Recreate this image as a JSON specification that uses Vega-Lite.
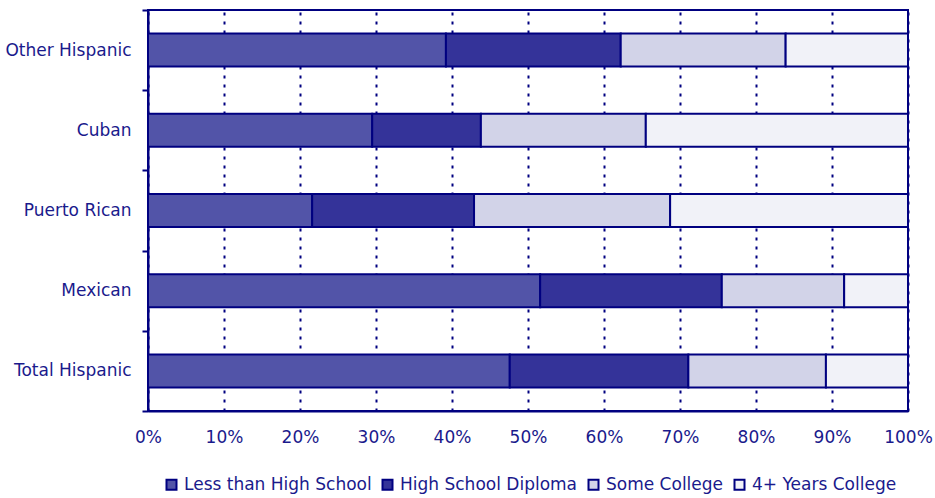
{
  "$schema": "https://vega.github.io/schema/vega-lite/v6.json",
  "autosize": "none",
  "padding": {"left": 148, "top": 10, "right": 27, "bottom": 87},
  "width": 760,
  "height": 401,
  "background": "white",
  "config": {
    "font": "DejaVu Sans",
    "view": {"stroke": "#000080", "strokeWidth": 2},
    "axis": {"labelColor": "#1a1a8c", "labelFontSize": 17, "labelFont": "DejaVu Sans", "domainColor": "#000080", "domainWidth": 2, "tickColor": "#000080", "tickWidth": 2},
    "legend": {"labelColor": "#1a1a8c", "labelFontSize": 17, "labelFont": "DejaVu Sans", "labelLimit": 0}
  },
  "data": {
    "values": [
      {"group": "Other Hispanic", "level": "Less than High School", "k": 1, "pct": 39.2},
      {"group": "Other Hispanic", "level": "High School Diploma", "k": 2, "pct": 23.0},
      {"group": "Other Hispanic", "level": "Some College", "k": 3, "pct": 21.7},
      {"group": "Other Hispanic", "level": "4+ Years College", "k": 4, "pct": 16.1},
      {"group": "Cuban", "level": "Less than High School", "k": 1, "pct": 29.5},
      {"group": "Cuban", "level": "High School Diploma", "k": 2, "pct": 14.3},
      {"group": "Cuban", "level": "Some College", "k": 3, "pct": 21.7},
      {"group": "Cuban", "level": "4+ Years College", "k": 4, "pct": 34.5},
      {"group": "Puerto Rican", "level": "Less than High School", "k": 1, "pct": 21.6},
      {"group": "Puerto Rican", "level": "High School Diploma", "k": 2, "pct": 21.3},
      {"group": "Puerto Rican", "level": "Some College", "k": 3, "pct": 25.8},
      {"group": "Puerto Rican", "level": "4+ Years College", "k": 4, "pct": 31.3},
      {"group": "Mexican", "level": "Less than High School", "k": 1, "pct": 51.6},
      {"group": "Mexican", "level": "High School Diploma", "k": 2, "pct": 23.9},
      {"group": "Mexican", "level": "Some College", "k": 3, "pct": 16.1},
      {"group": "Mexican", "level": "4+ Years College", "k": 4, "pct": 8.4},
      {"group": "Total Hispanic", "level": "Less than High School", "k": 1, "pct": 47.6},
      {"group": "Total Hispanic", "level": "High School Diploma", "k": 2, "pct": 23.5},
      {"group": "Total Hispanic", "level": "Some College", "k": 3, "pct": 18.1},
      {"group": "Total Hispanic", "level": "4+ Years College", "k": 4, "pct": 10.8}
    ]
  },
  "mark": {"type": "bar", "stroke": "#000080", "strokeWidth": 2, "size": 33},
  "encoding": {
    "y": {
      "field": "group", "type": "nominal", "title": null,
      "sort": ["Other Hispanic", "Cuban", "Puerto Rican", "Mexican", "Total Hispanic"],
      "scale": {"paddingInner": 0, "paddingOuter": 0},
      "axis": {"tickBand": "extent", "tickSize": 6, "labelPadding": 11, "grid": false}
    },
    "x": {
      "field": "pct", "type": "quantitative", "stack": "normalize", "title": null,
      "scale": {"domain": [0, 1], "nice": false},
      "axis": {"format": "%", "values": [0, 0.1, 0.2, 0.3, 0.4, 0.5, 0.6, 0.7, 0.8, 0.9, 1], "grid": true, "gridColor": "#000080", "gridWidth": 2, "gridDash": [3, 6], "gridOpacity": 1, "ticks": false, "labelPadding": 18, "labelFlush": false}
    },
    "order": {"field": "k", "type": "quantitative"},
    "color": {
      "field": "level", "type": "nominal", "title": null,
      "sort": ["Less than High School", "High School Diploma", "Some College", "4+ Years College"],
      "scale": {"domain": ["Less than High School", "High School Diploma", "Some College", "4+ Years College"], "range": ["#5254a8", "#343399", "#d2d3e8", "#f1f2f8"]},
      "legend": {"orient": "none", "direction": "horizontal", "legendX": 15, "legendY": 466, "symbolType": "square", "symbolSize": 100, "symbolStrokeColor": "#000080", "symbolStrokeWidth": 2, "symbolOpacity": 1, "labelOffset": 4, "columnPadding": 6}
    }
  }
}
